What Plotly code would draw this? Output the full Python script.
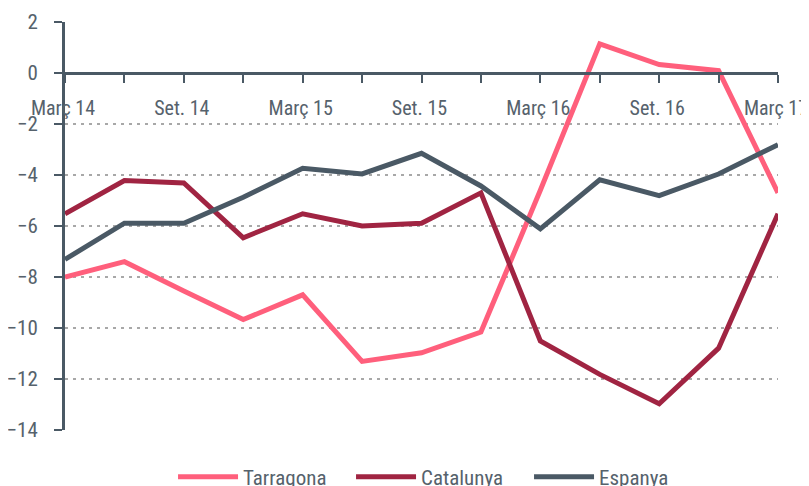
import plotly.graph_objects as go

quarters = ["Març 14", "Juny 14", "Set. 14", "Des. 14",
            "Març 15", "Juny 15", "Set. 15", "Des. 15",
            "Març 16", "Juny 16", "Set. 16", "Des. 16",
            "Març 17"]
tick_labels = ["Març 14", "", "Set. 14", "", "Març 15", "", "Set. 15", "",
               "Març 16", "", "Set. 16", "", "Març 17"]

tarragona = [-8.0, -7.4, -8.55, -9.67, -8.70, -11.31, -10.97, -10.16,
             -4.6, 1.14, 0.33, 0.09, -4.70]
catalunya = [-5.52, -4.22, -4.31, -6.46, -5.52, -6.0, -5.89, -4.70,
             -10.51, -11.82, -12.97, -10.79, -5.52]
espanya = [-7.31, -5.89, -5.89, -4.87, -3.74, -3.96, -3.15, -4.43,
           -6.11, -4.19, -4.81, -3.96, -2.81]

y_ticks = [2, 0, -2, -4, -6, -8, -10, -12, -14]

FONT = "Liberation Sans Narrow, Roboto Condensed, Arial Narrow, Roboto, sans-serif"
TEXT = "#56626c"
AXIS = "#4a5965"

fig = go.Figure()
for name, vals, color in [("Tarragona", tarragona, "#ff5f7c"),
                          ("Catalunya", catalunya, "#a02442"),
                          ("Espanya", espanya, "#4a5965")]:
    fig.add_trace(go.Scatter(x=quarters, y=vals, name=name, mode="lines",
                             line=dict(color=color, width=5)))

W, H = 801, 478
fig.update_layout(
    width=W, height=H,
    margin=dict(l=57, r=31, t=14, b=56, autoexpand=False),
    paper_bgcolor="white", plot_bgcolor="white",
    font=dict(family=FONT, size=21, color=TEXT),
    showlegend=True,
    legend=dict(orientation="h", x=0.526, xanchor="center",
                yref="container", y=(H - 469) / H, yanchor="middle",
                font=dict(size=21, color=TEXT), itemwidth=60, entrywidth=103,
                traceorder="normal"),
    xaxis=dict(type="category", range=[0, 12], anchor="free", position=0.875,
               automargin=False,
               showline=True, linecolor=AXIS, linewidth=3,
               ticks="outside", ticklen=8, tickwidth=2, tickcolor=AXIS,
               tickvals=quarters, ticktext=tick_labels, tickangle=0,
               ticklabelstandoff=8, ticklabelshift=-2, showgrid=False, zeroline=False,
               tickfont=dict(size=20, color=TEXT)),
    yaxis=dict(range=[-14, 2], tickvals=y_ticks, showline=True, linecolor=AXIS,
               automargin=False,
               linewidth=3, ticks="outside", ticklen=8, tickwidth=2, tickcolor=AXIS,
               ticklabelstandoff=12,
               showgrid=True, gridcolor="#a8a8a8", gridwidth=1.5, griddash="3px,5px",
               zeroline=False, tickfont=dict(size=21, color=TEXT)),
)

fig.write_html("out.html")
